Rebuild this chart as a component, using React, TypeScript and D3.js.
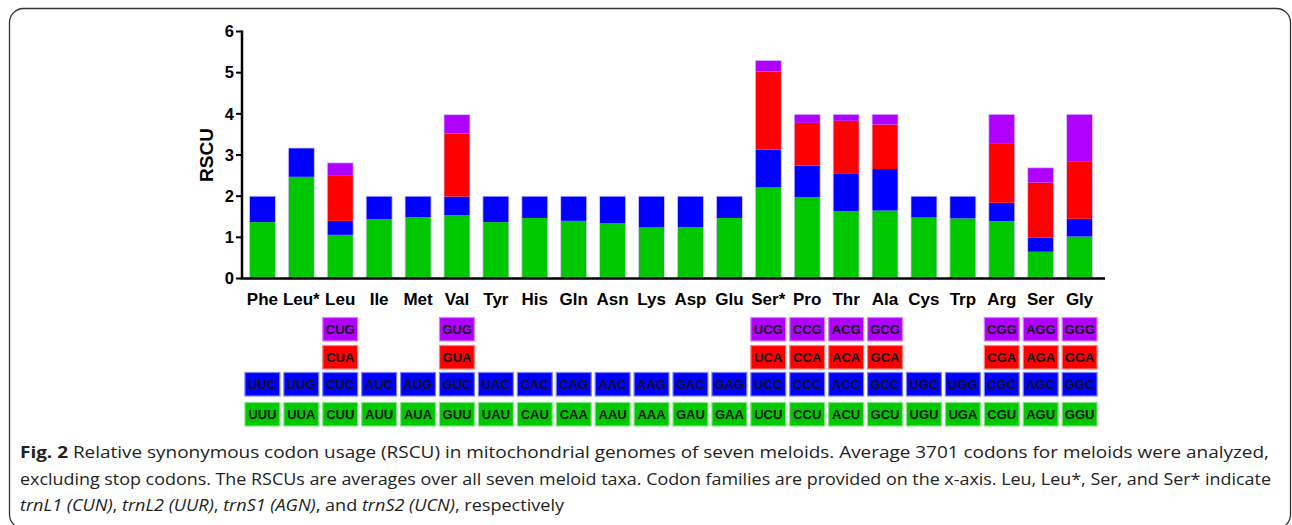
import * as d3 from 'd3';

const families = ['Phe', 'Leu*', 'Leu', 'Ile', 'Met', 'Val', 'Tyr', 'His', 'Gln', 'Asn', 'Lys', 'Asp', 'Glu', 'Ser*', 'Pro', 'Thr', 'Ala', 'Cys', 'Trp', 'Arg', 'Ser', 'Gly'];

// codons stacked bottom -> top
const codon1 = ['UUU', 'UUA', 'CUU', 'AUU', 'AUA', 'GUU', 'UAU', 'CAU', 'CAA', 'AAU', 'AAA', 'GAU', 'GAA', 'UCU', 'CCU', 'ACU', 'GCU', 'UGU', 'UGA', 'CGU', 'AGU', 'GGU'];
const codon2 = ['UUC', 'UUG', 'CUC', 'AUC', 'AUG', 'GUC', 'UAC', 'CAC', 'CAG', 'AAC', 'AAG', 'GAC', 'GAG', 'UCC', 'CCC', 'ACC', 'GCC', 'UGC', 'UGG', 'CGC', 'AGC', 'GGC'];
const codon3 = ['', '', 'CUA', '', '', 'GUA', '', '', '', '', '', '', '', 'UCA', 'CCA', 'ACA', 'GCA', '', '', 'CGA', 'AGA', 'GGA'];
const codon4 = ['', '', 'CUG', '', '', 'GUG', '', '', '', '', '', '', '', 'UCG', 'CCG', 'ACG', 'GCG', '', '', 'CGG', 'AGG', 'GGG'];

const rscu1 = [1.37, 2.47, 1.06, 1.44, 1.49, 1.54, 1.37, 1.47, 1.40, 1.34, 1.24, 1.25, 1.47, 2.21, 1.98, 1.64, 1.65, 1.48, 1.46, 1.39, 0.65, 1.02];
const rscu2 = [0.63, 0.70, 0.34, 0.56, 0.51, 0.45, 0.63, 0.53, 0.60, 0.66, 0.76, 0.75, 0.53, 0.92, 0.76, 0.90, 1.01, 0.52, 0.54, 0.45, 0.34, 0.43];
const rscu3 = [0, 0, 1.11, 0, 0, 1.53, 0, 0, 0, 0, 0, 0, 0, 1.90, 1.04, 1.29, 1.08, 0, 0, 1.43, 1.34, 1.40];
const rscu4 = [0, 0, 0.30, 0, 0, 0.46, 0, 0, 0, 0, 0, 0, 0, 0.27, 0.21, 0.16, 0.25, 0, 0, 0.72, 0.36, 1.14];

const yTicks = [0, 1, 2, 3, 4, 5, 6];

const colors = ['#00c800', '#0000ff', '#ff0000', '#b000ff'];
const borders = ['#80e480', '#8080ff', '#ff8080', '#d880ff'];

const W = 1292;
const H = 525;

export default function App() {
  const keys = ['c1', 'c2', 'c3', 'c4'];
  const table = families.map((f, i) => ({
    family: f,
    c1: rscu1[i],
    c2: rscu2[i],
    c3: rscu3[i],
    c4: rscu4[i],
  }));
  const codons = [codon1, codon2, codon3, codon4];

  const series = d3.stack<any>().keys(keys)(table);

  const x = d3
    .scaleBand()
    .domain(families)
    .range([242, 1100])
    .paddingInner(0.332)
    .paddingOuter(0.19);

  const y = d3.scaleLinear().domain([0, 6]).range([278.5, 31.5]);

  const step = x.step();
  const boxW = step - 4;
  const rowTop = [402.5, 372.5, 345.5, 317.5]; // green, blue, red, purple
  const boxH = 23.5;

  const font = 'Arial, "Liberation Sans", sans-serif';
  const capFont = '"Open Sans", "Noto Sans", sans-serif';

  return (
    <svg
      width={W}
      height={H}
      style={{ position: 'absolute', left: 0, top: 0, background: '#fff' }}
    >
      <rect x={9.5} y={8.5} width={1281} height={520} rx={14} fill="none" stroke="#333" strokeWidth={1.3} />

      {/* stacked bars */}
      {series.map((s, k) => (
        <g key={s.key}>
          {s.map((d, i) =>
            d[1] - d[0] > 0 ? (
              <rect
                key={i}
                x={x(families[i])}
                y={y(d[1])}
                width={x.bandwidth()}
                height={y(d[0]) - y(d[1])}
                fill={colors[k]}
              />
            ) : null
          )}
        </g>
      ))}
      {table.map((d) => (
        <rect
          key={'o' + d.family}
          x={x(d.family)}
          y={y(d.c1 + d.c2 + d.c3 + d.c4)}
          width={x.bandwidth()}
          height={y(0) - y(d.c1 + d.c2 + d.c3 + d.c4)}
          fill="none"
          stroke="#dccbff"
          strokeWidth={0.8}
        />
      ))}

      {/* y axis */}
      <line x1={242} x2={242} y1={y(6) - 1} y2={y(0)} stroke="#000" strokeWidth={2.5} />
      {yTicks.map((t) => (
        <g key={t} transform={`translate(0,${y(t)})`}>
          <line x1={236} x2={242} stroke="#000" strokeWidth={2} />
          <text
            x={234}
            dy="0.35em"
            textAnchor="end"
            fontFamily={font}
            fontWeight="bold"
            fontSize={16.5}
          >
            {t}
          </text>
        </g>
      ))}
      <text
        transform={`translate(213,${155}) rotate(-90)`}
        textAnchor="middle"
        fontFamily={font}
        fontWeight="bold"
        fontSize={19}
      >
        RSCU
      </text>

      {/* x axis */}
      <line x1={240.8} x2={1105} y1={y(0)} y2={y(0)} stroke="#000" strokeWidth={2.5} />
      {families.map((f) => (
        <text
          key={f}
          x={(x(f) as number) + x.bandwidth() / 2}
          y={305}
          textAnchor="middle"
          fontFamily={font}
          fontWeight="bold"
          fontSize={17}
        >
          {f}
        </text>
      ))}

      {/* codon boxes */}
      {codons.map((row, k) =>
        row.map((c, i) =>
          c ? (
            <g key={k + '-' + i}>
              <rect
                x={(x(families[i]) as number) + x.bandwidth() / 2 - boxW / 2}
                y={rowTop[k]}
                width={boxW}
                height={boxH}
                fill={colors[k]}
                stroke={borders[k]}
                strokeWidth={1.2}
              />
              <text
                x={(x(families[i]) as number) + x.bandwidth() / 2}
                y={rowTop[k] + boxH / 2}
                dy="0.36em"
                textAnchor="middle"
                fontFamily={font}
                fontWeight="bold"
                fontSize={13}
                fill="#111"
              >
                {c}
              </text>
            </g>
          ) : null
        )
      )}

      {/* caption */}
      <g fontFamily={capFont} fontSize={16} fill="#222">
        <text x={20} y={458} textLength={1249} lengthAdjust="spacingAndGlyphs">
          <tspan fontWeight="bold">Fig. 2</tspan> Relative synonymous codon usage (RSCU) in mitochondrial genomes of seven meloids. Average 3701 codons for meloids were analyzed,
        </text>
        <text x={20} y={485} textLength={1251} lengthAdjust="spacingAndGlyphs">
          excluding stop codons. The RSCUs are averages over all seven meloid taxa. Codon families are provided on the x-axis. Leu, Leu*, Ser, and Ser* indicate
        </text>
        <text x={20} y={511} textLength={544} lengthAdjust="spacingAndGlyphs">
          <tspan fontStyle="italic">trnL1 (CUN)</tspan>, <tspan fontStyle="italic">trnL2 (UUR)</tspan>, <tspan fontStyle="italic">trnS1 (AGN)</tspan>, and <tspan fontStyle="italic">trnS2 (UCN)</tspan>, respectively
        </text>
      </g>
    </svg>
  );
}
